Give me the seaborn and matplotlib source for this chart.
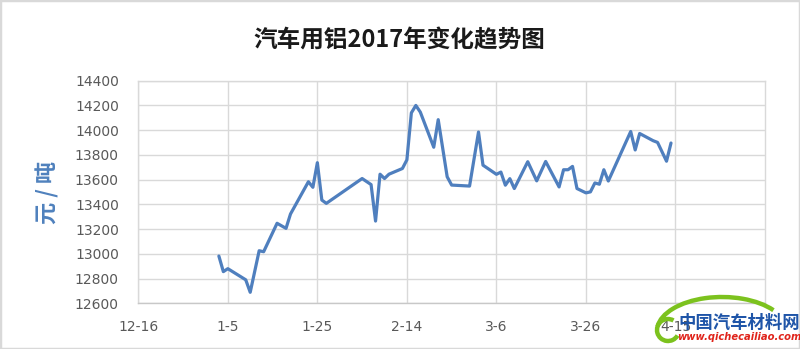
import matplotlib
matplotlib.use('Agg')
import matplotlib.pyplot as plt
import matplotlib.patches as mpatches
import seaborn as sns
import pandas as pd

# ---- data ----
dates = ['2017-01-03', '2017-01-04', '2017-01-05', '2017-01-09', '2017-01-10',
         '2017-01-12', '2017-01-13', '2017-01-16', '2017-01-18', '2017-01-19',
         '2017-01-23', '2017-01-24', '2017-01-25', '2017-01-26', '2017-01-27',
         '2017-02-04', '2017-02-06', '2017-02-07', '2017-02-08', '2017-02-09',
         '2017-02-10', '2017-02-13', '2017-02-14', '2017-02-15', '2017-02-16',
         '2017-02-17', '2017-02-20', '2017-02-21', '2017-02-23', '2017-02-24',
         '2017-02-28', '2017-03-02', '2017-03-03', '2017-03-06', '2017-03-07',
         '2017-03-08', '2017-03-09', '2017-03-10', '2017-03-13', '2017-03-15',
         '2017-03-17', '2017-03-20', '2017-03-21', '2017-03-22', '2017-03-23',
         '2017-03-24', '2017-03-26', '2017-03-27', '2017-03-28', '2017-03-29',
         '2017-03-30', '2017-03-31', '2017-04-05', '2017-04-06', '2017-04-07',
         '2017-04-10', '2017-04-11', '2017-04-13', '2017-04-14']
prices = [12982, 12856, 12880, 12790, 12689,
          13025, 13017, 13247, 13206, 13322,
          13583, 13538, 13737, 13435, 13408,
          13609, 13560, 13265, 13644, 13609,
          13644, 13690, 13760, 14140, 14200,
          14146, 13862, 14085, 13623, 13556,
          13548, 13985, 13717, 13643, 13661,
          13555, 13608, 13528, 13745, 13590,
          13747, 13541, 13680, 13680, 13707,
          13528, 13493, 13501, 13573, 13563,
          13680, 13589, 13989, 13840, 13973,
          13915, 13901, 13749, 13896]
tick_dates = ['2016-12-16', '2017-01-05', '2017-01-25', '2017-02-14',
              '2017-03-06', '2017-03-26', '2017-04-15']
tick_labels = ['12-16', '1-5', '1-25', '2-14', '3-6', '3-26', '4-15']
y_ticks = [12600, 12800, 13000, 13200, 13400, 13600, 13800, 14000, 14200, 14400]
title = '汽车用铝2017年变化趋势图'
y_label = '元 / 吨'

sns.set_theme(style='white')
plt.rcParams['font.family'] = ['Noto Sans CJK SC', 'DejaVu Sans']

W, H = 800, 349
fig = plt.figure(figsize=(W / 100, H / 100), dpi=100)
ax = fig.add_axes([138.3 / W, 1 - 303.3 / H, (765 - 138.3) / W, (303.3 - 80.7) / H])

df = pd.DataFrame({'date': pd.to_datetime(dates), 'price': prices})
sns.lineplot(data=df, x='date', y='price', ax=ax, color='#4F7FBE',
             linewidth=2.3, solid_joinstyle='round', solid_capstyle='round')

ax.set_xlim(pd.Timestamp('2016-12-16'), pd.Timestamp('2017-05-05'))
ax.set_ylim(12600, 14400)
ax.set_xticks(pd.to_datetime(tick_dates))
ax.set_xticklabels(tick_labels)
ax.set_yticks(y_ticks)
ax.set_xlabel('')
ax.set_ylabel('')
ax.grid(True, color='#d9d9d9', linewidth=1)
ax.set_axisbelow(True)
for s in ax.spines.values():
    s.set_color('#d9d9d9')
    s.set_linewidth(1)
ax.spines['bottom'].set_color('#c8c8c8')
ax.tick_params(axis='x', length=0, pad=12, labelsize=10, colors='#595959')
ax.tick_params(axis='y', length=0, pad=14, labelsize=10, colors='#595959')
for lab in ax.get_xticklabels() + ax.get_yticklabels():
    lab.set_family('DejaVu Sans')

fig.text(399 / W, 1 - 40 / H, title, ha='center', va='center',
         fontsize=17, fontweight='bold', color='#1a1a1a')
fig.text(48 / W, 1 - 192 / H, y_label, ha='center', va='center', rotation=90,
         fontsize=16, fontweight='bold', color='#4F81BD')

# frame around the picture
fig.add_artist(mpatches.Rectangle((0, 0), 1, 1, transform=fig.transFigure,
                                  fill=False, edgecolor='#d9d9d9', linewidth=2.5))

# watermark logo (decoration)
def px(x, y):
    return (x / 100, (H - y) / 100)

fig.add_artist(mpatches.Arc(px(722, 331), 1.30, 0.68, theta1=22, theta2=176,
                            transform=fig.dpi_scale_trans, color='#7CC21E',
                            linewidth=3.2, zorder=5))
fig.add_artist(mpatches.Arc(px(668, 330), 0.22, 0.22, theta1=60, theta2=330,
                            transform=fig.dpi_scale_trans, color='#7CC21E',
                            linewidth=3.2, zorder=5))
fig.text(739 / W, 1 - 323 / H, '中国汽车材料网', ha='center', va='center',
         fontsize=12.5, fontweight='bold', color='#1F55A8', zorder=6)
fig.text(739 / W, 1 - 337 / H, 'www.qichecailiao.com', ha='center', va='center',
         fontsize=7.2, fontweight='bold', style='italic', color='#E0241B', zorder=6,
         family='DejaVu Sans')

fig.savefig('out.png', dpi=100)
